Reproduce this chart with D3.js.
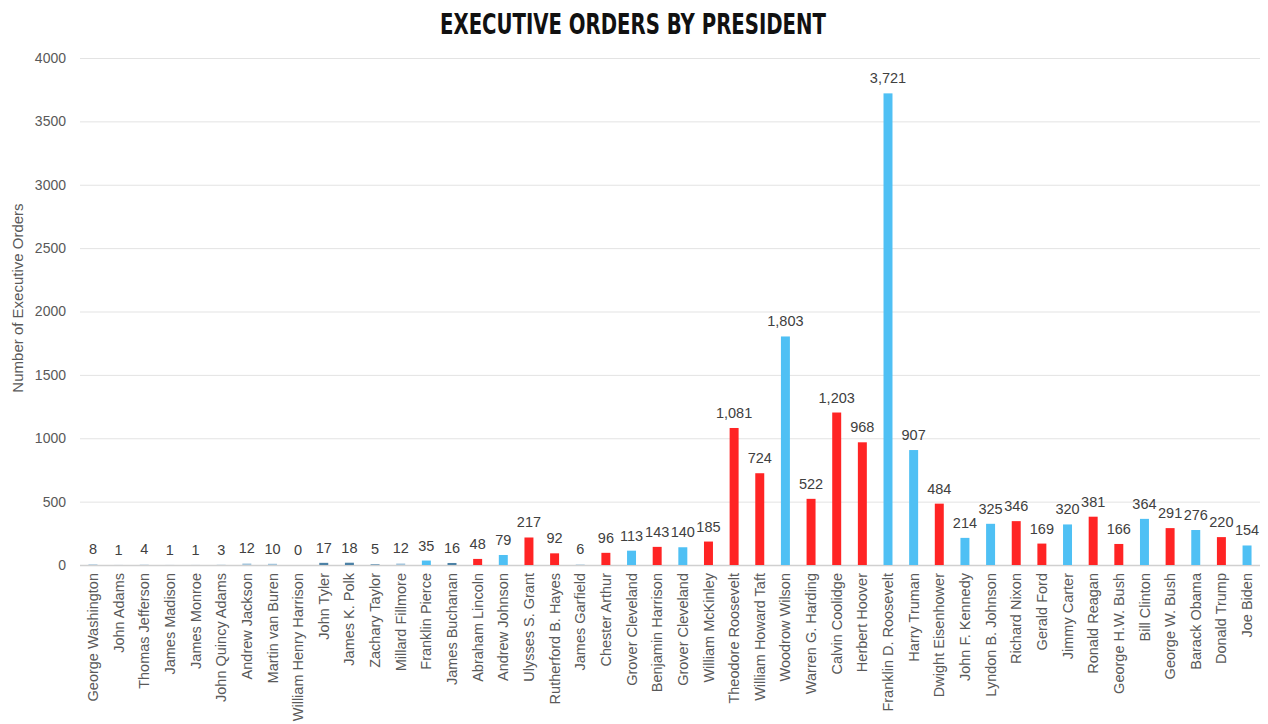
<!DOCTYPE html>
<html>
<head>
<meta charset="utf-8">
<script src="https://cdn.jsdelivr.net/npm/d3@7"></script>
<style>
  body { margin: 0; background: #fff; }
  svg { display: block; font-family: "Liberation Sans", Arial, sans-serif; }
</style>
</head>
<body>
<div id="chart"></div>
<script>
const presidents = ['George Washington', 'John Adams', 'Thomas Jefferson', 'James Madison', 'James Monroe',
	'John Quincy Adams', 'Andrew Jackson', 'Martin van Buren', 'William Henry Harrison', 'John Tyler',
	'James K. Polk', 'Zachary Taylor', 'Millard Fillmore', 'Franklin Pierce', 'James Buchanan',
	'Abraham Lincoln', 'Andrew Johnson', 'Ulysses S. Grant', 'Rutherford B. Hayes', 'James Garfield',
	'Chester Arthur', 'Grover Cleveland', 'Benjamin Harrison', 'Grover Cleveland', 'William McKinley',
	'Theodore Roosevelt', 'William Howard Taft', 'Woodrow Wilson', 'Warren G. Harding', 'Calvin Coolidge',
	'Herbert Hoover', 'Franklin D. Roosevelt', 'Harry Truman', 'Dwight Eisenhower', 'John F. Kennedy',
	'Lyndon B. Johnson', 'Richard Nixon', 'Gerald Ford', 'Jimmy Carter', 'Ronald Reagan',
	'George H.W. Bush', 'Bill Clinton', 'George W. Bush', 'Barack Obama', 'Donald Trump', 'Joe Biden'];
const orders = [8, 1, 4, 1, 1, 3, 12, 10, 0, 17, 18, 5, 12, 35, 16,
	48, 79, 217, 92, 6, 96, 113, 143, 140, 185,
	1081, 724, 1803, 522, 1203, 968, 3721, 907, 484, 214,
	325, 346, 169, 320, 381, 166, 364, 291, 276, 220, 154];
// party used for the bar colour
const party = ['O', 'O', 'O', 'O', 'O', 'O', 'P', 'P', 'P', 'W', 'W', 'W', 'P', 'D', 'W',
	'R', 'D', 'R', 'R', 'O', 'R', 'D', 'R', 'D', 'R',
	'R', 'R', 'D', 'R', 'R', 'R', 'D', 'D', 'R', 'D',
	'D', 'R', 'R', 'D', 'R', 'R', 'D', 'R', 'D', 'R', 'D'];
const yTicks = [0, 500, 1000, 1500, 2000, 2500, 3000, 3500, 4000];

const width = 1268;
const height = 724;
const margin = { top: 58, right: 8, bottom: 159, left: 80 };

const color = d3.scaleOrdinal()
	.domain(['O', 'P', 'W', 'D', 'R'])
	.range(['#c3d6e4', '#a6c6dc', '#4d82a6', '#4fc0f4', '#ff2424']);

const svg = d3.select('#chart')
	.append('svg')
	.attr('width', width)
	.attr('height', height);

const x = d3.scaleBand()
	.domain(d3.range(presidents.length))
	.range([margin.left, width - margin.right])
	.paddingInner(0.65)
	.paddingOuter(0.33);

const y = d3.scaleLinear()
	.domain([0, 4000])
	.range([height - margin.bottom, margin.top]);

// title
svg.append('text')
	.attr('x', 633)
	.attr('y', 34)
	.attr('text-anchor', 'middle')
	.style('font-family', '"DejaVu Sans Condensed", "DejaVu Sans", sans-serif')
	.style('font-stretch', 'condensed')
	.style('font-weight', 'bold')
	.style('font-size', '28px')
	.attr('textLength', 386)
	.attr('lengthAdjust', 'spacingAndGlyphs')
	.style('fill', '#111')
	.text('EXECUTIVE ORDERS BY PRESIDENT');

// grid + y axis
const yAxis = svg.append('g')
	.attr('transform', 'translate(' + margin.left + ',0)')
	.call(d3.axisLeft(y).tickValues(yTicks).tickFormat(d3.format('d'))
		.tickSize(-(width - margin.left - margin.right)).tickPadding(14));
yAxis.select('.domain').remove();
yAxis.selectAll('.tick line')
	.attr('stroke', (d) => d === 0 ? '#d0d0d0' : '#e3e3e3')
	.attr('stroke-width', (d) => d === 0 ? 1.5 : 1);
yAxis.selectAll('.tick text')
	.style('font-size', '14px')
	.style('fill', '#595959');

svg.append('text')
	.attr('transform', 'translate(23,298) rotate(-90)')
	.attr('text-anchor', 'middle')
	.style('font-size', '15px')
	.style('fill', '#595959')
	.text('Number of Executive Orders');

// bars
svg.selectAll('.bar')
	.data(orders)
	.enter()
	.append('rect')
	.attr('class', 'bar')
	.attr('x', (d, i) => x(i))
	.attr('y', (d) => y(d))
	.attr('width', x.bandwidth())
	.attr('height', (d) => y(0) - y(d))
	.attr('fill', (d, i) => color(party[i]));

// value labels
svg.selectAll('.val')
	.data(orders)
	.enter()
	.append('text')
	.attr('class', 'val')
	.attr('x', (d, i) => x(i) + x.bandwidth() / 2)
	.attr('y', (d) => y(d) - 10)
	.attr('text-anchor', 'middle')
	.style('font-size', '14.5px')
	.style('fill', '#404040')
	.text((d) => d3.format(',')(d));

// x labels
const xAxis = svg.append('g')
	.attr('transform', 'translate(0,' + y(0) + ')')
	.call(d3.axisBottom(x).tickFormat((i) => presidents[i]).tickSize(0));
xAxis.select('.domain').remove();
xAxis.selectAll('text')
	.attr('transform', 'rotate(-90)')
	.attr('x', -8)
	.attr('y', 0)
	.attr('dy', '0.35em')
	.attr('text-anchor', 'end')
	.style('font-size', '14.5px')
	.style('fill', '#595959');
</script>
</body>
</html>
